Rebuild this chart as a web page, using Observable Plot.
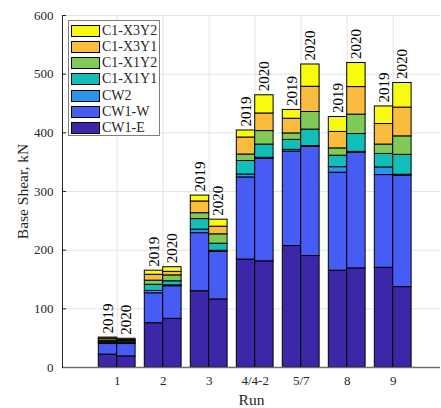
<!DOCTYPE html>
<html>
<head>
<meta charset="utf-8">
<script src="https://cdn.jsdelivr.net/npm/d3@7"></script>
<script src="https://cdn.jsdelivr.net/npm/@observablehq/plot@0.6"></script>
<style>
  body { margin: 0; background: #fff; }
  #wrap { position: relative; width: 441px; height: 408px; font-family: 'Liberation Serif', 'Times New Roman', serif; }
  #chart svg text { font-family: 'Liberation Serif', 'Times New Roman', serif !important; }
  #legend { position: absolute; left: 68px; top: 20px; width: 92px; height: 116px; box-sizing: border-box;
            border: 1px solid #7f7f7f; background: #fff; }
  .row { position: absolute; left: 2px; height: 12px; display: flex; align-items: center; }
  .sw { width: 27px; height: 10px; border: 1px solid #000; }
  .lab { margin-left: 2px; font-size: 14px; color: #262626; line-height: 12px; }
</style>
</head>
<body>
<div id="wrap"><div id="chart"></div><div id="legend"></div></div>
<script>
// ---- data ----
const runs = ["1", "2", "3", "4/4-2", "5/7", "8", "9"];
const years = ["2019", "2020"];
const series = ["CW1-E", "CW1-W", "CW2", "C1-X1Y1", "C1-X1Y2", "C1-X3Y1", "C1-X3Y2"];
const colors = ["#3E26A8", "#475CF4", "#2796EB", "#12BEB9", "#80CB58", "#FBBC3D", "#F9FB0E"];
const yTicks = [0, 100, 200, 300, 400, 500, 600];

// values per series, per run (2019 / 2020)
const cw1e_2019 = [22, 75.5, 130, 184, 207, 165, 170];
const cw1e_2020 = [19, 83, 116, 181, 190, 169, 137];
const cw1w_2019 = [18, 51, 99, 140, 161, 167, 158];
const cw1w_2020 = [21, 55.5, 81, 175, 186, 197, 190];
const cw2_2019 = [2, 4, 6, 5, 3, 9.5, 13];
const cw2_2020 = [1, 1.5, 2, 1.5, 1.5, 1.5, 1.5];
const x1y1_2019 = [2, 10.5, 18, 23, 17, 19.5, 23];
const x1y1_2020 = [2, 7, 12, 22.5, 28, 30.5, 34];
const x1y2_2019 = [2, 7, 10, 11, 11, 12.5, 16];
const x1y2_2020 = [2, 10, 16, 23, 30, 33, 31.5];
const x3y1_2019 = [3, 10, 20, 29, 25, 28, 35];
const x3y1_2020 = [2, 6, 13, 30, 43, 47, 49];
const x3y2_2019 = [2, 7, 10, 12, 15, 25.5, 30];
const x3y2_2020 = [2, 8, 12, 31, 38, 41, 42];

const values2019 = [cw1e_2019, cw1w_2019, cw2_2019, x1y1_2019, x1y2_2019, x3y1_2019, x3y2_2019];
const values2020 = [cw1e_2020, cw1w_2020, cw2_2020, x1y1_2020, x1y2_2020, x3y1_2020, x3y2_2020];

// ---- build table ----
const barW = 0.4;
const rects = [];
const tops = [];
runs.forEach((run, i) => {
  years.forEach((yr, j) => {
    const vals = j === 0 ? values2019 : values2020;
    const x1 = (i + 1) + (j === 0 ? -barW : 0);
    let cum = 0;
    series.forEach((s, k) => {
      const v = vals[k][i];
      rects.push({x1, x2: x1 + barW, y1: cum, y2: cum + v, series: s});
      cum += v;
    });
    tops.push({x: x1 + barW / 2, total: cum, year: yr});
  });
});

const font = "'Liberation Serif', 'Times New Roman', serif";
const plot = Plot.plot({
  width: 441,
  height: 408,
  marginLeft: 62,
  marginRight: 1,
  marginTop: 15,
  marginBottom: 41,
  style: {fontFamily: font, background: "#fff", color: "#262626"},
  x: {type: "linear", domain: [-0.189, 8.028]},
  y: {domain: [0, 600]},
  color: {domain: series, range: colors},
  marks: [
    Plot.gridY(yTicks.slice(1), {stroke: "#e3e3e3", strokeOpacity: 1}),
    Plot.gridX(d3.range(1, runs.length + 1), {stroke: "#e3e3e3", strokeOpacity: 1}),
    Plot.rect(rects, {x1: "x1", x2: "x2", y1: "y1", y2: "y2", fill: "series", stroke: "#000", strokeWidth: 1}),
    Plot.text(tops, {x: "x", y: "total", text: "year", rotate: -90, textAnchor: "start", lineAnchor: "middle",
                     dy: -4, fontSize: 15, fill: "#000", fontFamily: font}),
    Plot.axisY({ticks: yTicks, tickSize: 0, tickPadding: 9, fontSize: 13, fontFamily: font, label: "Base Shear, kN",
                labelAnchor: "center", labelOffset: 46, labelArrow: "none"}),
    Plot.axisY({ticks: yTicks, tickSize: -4, tickFormat: () => "", label: null, stroke: "#262626"}),
    Plot.axisX({ticks: d3.range(1, runs.length + 1), tickFormat: d => runs[d - 1], tickSize: 0, tickPadding: 8,
                fontSize: 13, fontFamily: font, label: "Run", labelAnchor: "center", labelOffset: 37, labelArrow: "none"}),
    Plot.ruleY([0], {stroke: "#6e6e6e", strokeWidth: 1.3}),
    Plot.frame({anchor: "left", stroke: "#262626"})
  ]
});
// axis label font size
plot.querySelectorAll("[aria-label$='axis label'] text").forEach(t => t.setAttribute("font-size", "15.5"));
document.getElementById("chart").appendChild(plot);

// ---- legend ----
const legend = document.getElementById("legend");
series.slice().reverse().forEach((s, r) => {
  const k = series.indexOf(s);
  const row = document.createElement("div");
  row.className = "row";
  row.style.top = (3.7 + r * 16.2) + "px";
  row.innerHTML = `<div class="sw" style="background:${colors[k]}"></div><div class="lab">${s}</div>`;
  legend.appendChild(row);
});
</script>
</body>
</html>
